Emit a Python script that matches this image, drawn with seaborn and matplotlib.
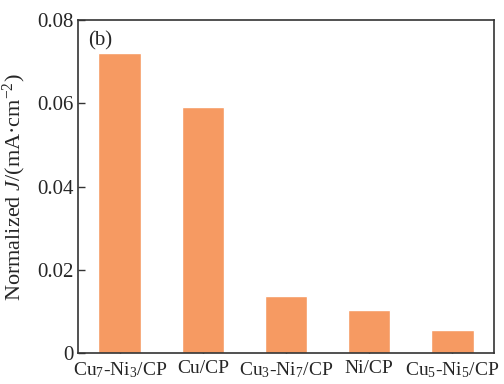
import matplotlib
matplotlib.use('Agg')
import matplotlib.pyplot as plt
import seaborn as sns
import pandas as pd

# 데이터
samples = ['Cu$_7$-Ni$_3$/CP', 'Cu/CP', 'Cu$_3$-Ni$_7$/CP', 'Ni/CP', 'Cu$_5$-Ni$_5$/CP']
current = [0.0720, 0.0590, 0.0137, 0.0105, 0.0055]
yticks = [0, 0.02, 0.04, 0.06, 0.08]
ytick_labels = ['0', '0.02', '0.04', '0.06', '0.08']

df = pd.DataFrame({'sample': samples, 'J': current})

sns.set_style('ticks')
plt.rcParams['font.family'] = 'serif'
plt.rcParams['font.serif'] = ['Liberation Serif']
plt.rcParams['mathtext.fontset'] = 'custom'
plt.rcParams['mathtext.rm'] = 'Liberation Serif'
plt.rcParams['mathtext.it'] = 'Liberation Serif:italic'
plt.rcParams['axes.unicode_minus'] = True

fig, ax = plt.subplots(figsize=(5.04, 3.84), dpi=100)
sns.barplot(data=df, x='sample', y='J', color='#F69A62', saturation=1, width=0.51, ax=ax)

ax.set_ylim(0, 0.08)
ax.set_xlim(-0.5, 4.5)
ax.set_yticks(yticks)
ax.set_yticklabels(ytick_labels)
ax.set_xlabel('')
ax.set_ylabel('Normalized $J$/(mA·cm$^{-2}$)', fontsize=16, labelpad=6)
ax.tick_params(direction='in', labelsize=15, length=5, width=1, color='#333333')
ax.tick_params(axis='x', labelsize=14, pad=5)
for s in ax.spines.values():
    s.set_linewidth(1.2)
    s.set_color('#333333')
    s.set_visible(True)

ax.text(0.025, 0.965, '(b)', transform=ax.transAxes, fontsize=15, va='top', ha='left')

fig.subplots_adjust(left=0.155, right=0.98, top=0.948, bottom=0.08)
fig.savefig('out.png', dpi=100)
